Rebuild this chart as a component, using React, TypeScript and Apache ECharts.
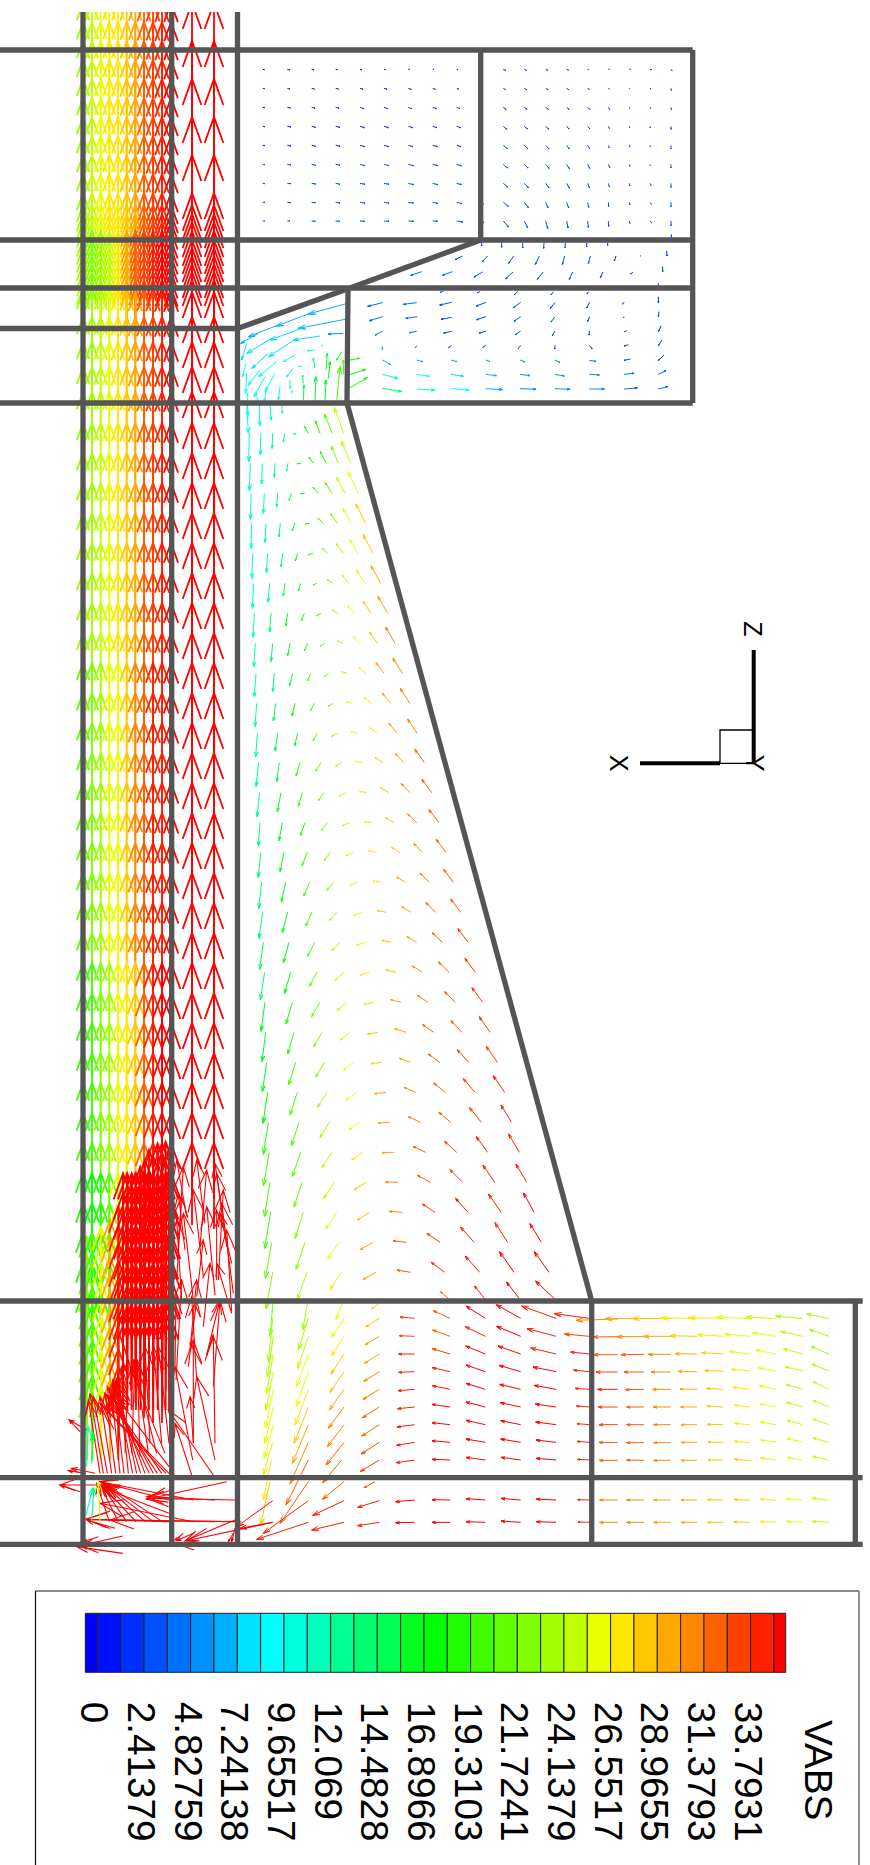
import React, { useEffect, useRef } from "react";
import * as echarts from "echarts";

type Row = number[];

// Colour levels of the VABS legend (one per contour band)
const LEVEL_STEP = 1.2069;
const LEVEL_COLORS = ["#0000ff","#0010ff","#0030ff","#0050ff","#0070ff","#0090ff","#00b0ff","#00e0ff","#00ffff","#00ffdd","#00ffb8","#00ff90","#00ff70","#00ff50","#00ff20","#00ff00","#20ff00","#40ff00","#60ff00","#80ff00","#a0ff00","#c0ff00","#e8ff00","#ffe800","#ffc800","#ffa800","#ff8800","#ff6000","#ff4000","#ff2000","#ff0000"];
const LEGEND_TICKS = ["0","2.41379","4.82759","7.24138","9.65517","12.069","14.4828","16.8966","19.3103","21.7241","24.1379","26.5517","28.9655","31.3793","33.7931"];
const LEGEND_TITLE = "VABS";

// Wall segments of the geometry: x0,y0,x1,y1
const WALLS: Row[] = [
  [83,12,83,1544],[171.7,12,171.7,1544],[237.5,12,237.5,1544],
  [0,50,692.7,50],[0,240,692.7,240],[0,288,692.7,288],[0,328.5,237.5,328.5],[0,403,692.7,403],
  [692.7,50,692.7,403],[480.7,50,480.7,240],[237.5,328.5,350,288],[350,288,480.7,240],[348,288,347,403],
  [347,403,591.7,1301],[0,1301,862.7,1301],[0,1477.7,862.7,1477.7],[0,1544.3,862.7,1544.3],
  [855.3,1301,855.3,1544.3],[591.7,1301,591.7,1544.3],
];

// Vector table cells: tail x, tail y, tip x, tip y, VABS
const TRAPEZOID_UPPER: Row[] = [
  [88,130,86,215,10.5],[122,130,121,195,11],[158,130,156,175,13],[194,130,190,155,14.5],[230,130,221,132,16],[265,130,254,110,18],[300,130,286,92,19],[336,130,314,72,21.5],[371,130,343,52,25],
  [91,220,88,302,11],[127,220,125,282,11.5],[165,220,163,262,13],[204,220,199,243,15],[243,220,232,221,16.5],[280,220,267,201,18],[318,220,301,184,19.5],[355,220,334,168,23],[392,220,365,153,25],
  [93,310,91,388,10.5],[133,310,130,370,11.5],[173,310,170,350,14],[214,310,207,331,16],[254,310,242,311,17.5],[295,310,279,292,19],[335,310,316,277,21],[375,310,350,262,25],[415,310,385,245,27],
  [95,400,93,475,10.5],[138,400,135,457,12],[181,400,177,440,14.5],[224,400,217,421,17],[268,400,255,402,19],[310,400,294,385,21],[352,400,332,371,23],[394,400,369,356,26],[437,400,408,342,28.5],
  [98,490,95,565,11],[143,490,139,547,13],[188,490,183,530,15],[233,490,226,512,17.5],[279,490,265,494,20],[323,490,308,476,22],[369,490,349,461,25],[413,490,390,449,27],[459,490,430,434,29],
  [101,580,97,655,11],[149,580,144,636,13],[195,580,190,618,16],[242,580,235,603,18],[290,580,279,585,20],[338,580,322,569,23],[386,580,366,555,25.5],[435,580,410,541,28],[482,580,453,527,30],
  [103,670,99,742,12],[153,670,149,725,14],[203,670,197,708,16.5],[253,670,244,693,19],[303,670,290,677,21],[353,670,337,660,24],[403,670,383,648,26],[453,670,429,633,28.5],[503,670,474,619,30],
  [106,760,101,830,12],[158,760,153,814,14],[210,760,203,797,17],[263,760,253,782,19],[315,760,301,768,22],[367,760,351,752,24.5],[419,760,400,739,27],[472,760,449,726,29],[525,760,497,711,31],
  [108,850,103,921,12.5],[163,850,158,904,15],[218,850,209,887,17.5],[272,850,262,873,20],[327,850,313,858,23],[382,850,365,845,25.5],[438,850,417,831,28],[492,850,468,818,30],[547,850,519,804,31],
  [110,940,105,1010,12.5],[167,940,160,993,15.5],[225,940,216,977,18],[283,940,271,963,21],[340,940,324,949,23],[397,940,379,935,26],[454,940,433,922,28],[512,940,487,909,30],[569,940,541,895,31.5],
  [112,1030,107,1100,13],[173,1030,165,1083,16],[233,1030,224,1067,18],[292,1030,279,1053,20],[352,1030,335,1039,24],[412,1030,393,1025,26],[471,1030,450,1013,28],[531,1030,507,1000,30],[591,1030,563,987,31.5],
  [116,1118,108,1190,13.5],[178,1118,170,1175,16],[240,1118,228,1158,19],[303,1118,287,1143,22],[365,1118,347,1128,24],[426,1118,406,1114,27],[489,1118,466,1103,28.5],[551,1118,526,1090,30.5],[613,1118,585,1078,32],
  [119,1208,111,1280,13.5],[183,1208,172,1265,17],[247,1208,235,1248,19],[312,1208,295,1232,22],[377,1208,357,1218,25],[441,1208,419,1204,27.5],[506,1208,482,1193,29],[570,1208,544,1181,31],[635,1208,606,1168,32.5],
  [120,1298,115,1368,14],[187,1298,177,1352,17],[255,1298,241,1336,19.5],[321,1298,304,1322,23],[388,1298,367,1307,25],[455,1298,432,1295,28],[522,1298,497,1283,29.5],[590,1298,563,1272,31],[657,1298,627,1259,33],
];
const TRAPEZOID_LOWER: Row[] = [
  [123,67,114,142,14],[192,67,180,125,17],[262,67,246,107,20],[331,67,312,92,23],[400,67,379,76,25.5],[470,67,446,63,28],[539,67,515,52,29.5],[608,67,582,41,31],[678,67,649,28,33],
  [125,157,116,235,14.5],[197,157,184,216,17],[269,157,251,198,20],[341,157,320,181,23],[413,157,390,166,26],[484,157,460,153,28],[556,157,530,141,30],[628,157,600,129,31.5],[700,157,671,118,33],
  [128,247,117,325,15],[203,247,187,307,17.5],[276,247,257,288,20],[351,247,328,271,24],[425,247,400,256,26],[499,247,472,242,28.5],[573,247,545,230,30],[647,247,618,218,32],[722,247,692,207,33],
  [130,337,119,418,15.5],[207,337,190,398,18],[284,337,263,379,21],[360,337,336,361,24],[437,337,410,345,27],[514,337,486,331,29],[590,337,561,320,30.5],[667,337,637,308,32],[744,337,714,296,33.5],
  [134,427,121,510,16],[212,427,193,490,18.5],[291,427,268,469,21.5],[371,427,345,451,25],[449,427,420,435,27.5],[528,427,499,420,29.5],[607,427,577,408,31],[687,427,656,396,32.5],[766,427,735,385,34],
  [135,517,123,604,16.5],[217,517,198,581,19],[299,517,275,560,22],[380,517,352,541,25],[461,517,432,523,28],[543,517,512,509,30],[624,517,592,496,31.5],[706,517,674,485,33],[788,517,756,473,34],
  [137,607,126,695,17],[222,607,203,672,19.5],[306,607,281,650,23],[389,607,361,630,25.5],[473,607,443,612,28.5],[558,607,524,596,30],[641,607,608,584,32],[726,607,693,572,33],[810,607,778,560,34],
  [140,697,127,785,17],[227,697,206,764,20],[314,697,287,741,23],[400,697,370,720,26],[485,697,453,701,29],[572,697,538,685,30.5],[659,697,625,672,32],[746,697,712,659,33.5],[832,697,799,649,34],
  [143,787,129,880,18],[232,787,210,855,20.5],[321,787,293,831,24],[409,787,378,810,27],[498,787,464,791,30],[587,787,552,772,31],[676,787,641,759,32.5],[765,787,730,746,34],[854,787,820,737,34.5],
  [145,877,130,973,19],[237,877,214,947,21],[328,877,300,922,24],[419,877,387,899,27],[510,877,475,879,30],[602,877,565,860,31.5],[692,877,657,847,33],[784,877,749,833,34],[875,877,843,825,35],
  [148,967,130,1067,20],[242,967,217,1040,21.5],[335,967,306,1013,25],[429,967,395,989,28],[522,967,486,968,30.5],[617,967,579,949,32],[710,967,674,934,33.5],[803,967,769,920,35],[898,967,866,912,35],
  [150,1057,133,1160,20.5],[246,1057,222,1131,22],[343,1057,311,1105,25.5],[438,1057,403,1079,28.5],[534,1057,497,1056,31],[632,1057,592,1036,33],[728,1057,690,1019,34],[824,1057,789,1005,35],[920,1057,888,1002,35.5],
  [152,1147,134,1255,21],[250,1147,225,1225,23],[350,1147,318,1196,26.5],[448,1147,412,1170,29],[547,1147,508,1144,31.5],[645,1147,607,1122,33.5],[744,1147,707,1105,35],[843,1147,806,1092,35.5],[942,1147,911,1089,36],
  [155,1237,136,1345,22],[255,1237,228,1318,23.5],[357,1237,323,1287,27],[459,1237,420,1259,30],[559,1237,519,1232,32],[660,1237,621,1210,34],[762,1237,722,1191,35],[863,1237,825,1178,35.5],[964,1237,930,1181,36],
  [158,1327,138,1437,22.5],[261,1327,231,1410,24],[364,1327,330,1378,27.5],[468,1327,429,1348,30.5],[572,1327,531,1320,33],[674,1327,634,1297,35],[779,1327,736,1278,35.5],[882,1327,839,1265,36],[987,1327,943,1265,36],
  [685,1405,662,1385,33],[793,1405,764,1368,35],[897,1405,860,1356,36],[1002,1405,947,1353,36],
];
const LOWER_LEFT_FIELD: Row[] = [
  [670,355,660,470,23],[668,415,655,545,24],[670,469,652,590,24.5],[670,522,650,640,25],[670,575,648,690,25.5],[670,628,646,745,26],[670,681,644,790,26.5],[670,734,642,835,27],[668,787,640,885,27.5],[664,840,640,960,28],[660,905,632,1035,29],[668,962,560,1040,36],[668,1027,570,1045,36],
  [775,355,758,450,24.5],[775,415,745,510,24],[775,469,743,565,25],[775,522,740,620,26],[775,575,738,680,27],[775,628,735,735,28],[775,681,732,790,29],[775,734,727,850,30],[775,787,720,912,31],[775,840,708,975,32],[775,905,690,1030,33],[775,962,640,1060,35.5],[775,1027,620,1078,35.5],
  [882,355,858,418,27],[882,415,845,472,27],[882,469,845,527,28],[882,522,843,583,28.5],[882,575,840,637,29],[882,628,838,690,30],[882,681,835,745,31],[882,734,832,800,31.5],[882,787,828,855,32],[875,840,818,908,32.5],[882,905,817,958,33],[882,962,788,1006,35],[882,1027,785,1050,35.5],
  [985,372,965,386,29],[988,415,947,440,29],[988,469,945,494,30],[988,522,943,550,30.5],[988,575,941,604,31],[988,628,939,658,31.5],[988,681,937,713,32],[988,734,935,768,33],[988,787,933,822,33.5],[988,840,931,874,34],[975,905,942,923,34],[988,962,923,982,35],[988,1027,923,1037,35.5],
  [1094,415,1050,411,34],[1094,469,1048,467,34],[1094,522,1046,522,34.5],[1094,575,1046,577,35],[1094,628,1044,632,35],[1094,681,1043,686,35.5],[1094,734,1041,741,35.5],[1094,787,1040,796,35.5],[1094,840,1039,848,35.5],[1094,960,1037,965,36],[1094,1027,1037,1028,36],
];
const LOWER_RIGHT_FIELD: Row[] = [
  [60,145,10,122,33],[60,199,8,180,33],[60,252,7,236,34],[60,305,7,293,35],[60,358,7,347,35.5],[60,411,6,403,36],[60,464,6,458,36],[60,517,6,512,36],[60,570,6,568,36],[60,690,6,689,36],[60,757,6,757,36],
  [166,145,108,108,36],[166,199,106,170,35],[166,252,107,228,36],[166,305,108,285,36],[166,358,108,340,36],[166,411,108,396,36],[166,464,108,451,36],[166,517,108,507,36],[166,570,108,562,36],[166,690,108,686,36],[166,757,108,755,36],
  [272,145,199,104,36],[272,199,200,169,36],[272,252,204,228,36],[272,305,207,286,36],[272,358,209,343,36],[272,411,211,398,36],[272,464,212,452,36],[272,517,212,507,36],[272,570,213,562,36],[272,690,213,685,36],[272,757,213,753,36],
  [378,145,275,108,35],[378,199,291,176,35],[378,252,302,234,35.5],[378,305,309,291,36],[378,358,313,346,36],[378,411,316,402,36],[378,464,317,456,36],[378,517,318,510,36],[378,570,318,565,36],[378,690,319,687,36],[378,757,319,755,36],
  [478,145,373,131,35],[478,199,404,192,34],[478,252,422,246,35],[478,305,431,300,35],[478,358,436,355,35],[478,411,440,408,35],[478,464,441,461,35],[478,517,442,514,35],[478,570,443,568,35],[478,690,443,689,35],[478,757,444,756,35],
  [563,147,438,151,31],[642,146,525,146,30],[722,146,607,145,28.5],[801,145,692,144,28],[880,145,775,143,28],[959,146,860,141,27],[1038,146,948,140,25.5],[1118,146,1037,138,24.5],[1197,146,1130,132,24.5],
  [563,200,490,201,32],[642,200,560,200,31],[722,199,640,199,30],[801,199,720,197,29.5],[880,199,803,194,28],[959,199,885,192,27],[1038,199,968,188,26],[1118,199,1052,184,25.5],[1197,199,1138,178,24.5],
  [563,254,490,254,33],[642,253,573,254,32],[722,253,654,253,31.5],[801,252,735,251,30],[880,252,815,248,29],[959,252,897,244,27],[1038,252,977,240,26],[1118,252,1060,236,25.5],[1197,252,1143,229,24.5],
  [563,306,498,306,34],[642,306,582,306,32],[722,306,663,306,31],[801,305,745,304,30.5],[880,304,824,301,29],[959,303,904,298,27.5],[1038,303,985,293,26.5],[1118,303,1065,290,25.5],[1197,303,1146,282,24.5],
  [563,358,503,358,34.5],[642,358,587,359,33],[722,358,668,358,31.5],[801,358,750,357,30],[880,358,829,355,28.5],[959,358,909,351,27.5],[1038,358,988,347,26.5],[1118,358,1068,343,25.5],[1197,358,1149,335,25],
  [563,411,505,411,34],[642,411,590,411,33],[722,411,670,411,31.5],[801,411,752,411,30],[880,411,831,408,28.5],[959,411,913,405,27.5],[1038,411,991,401,26.5],[1118,411,1070,397,25.5],[1197,411,1149,391,25],
  [563,464,507,464,33.5],[642,464,590,464,32.5],[722,464,671,464,31.5],[801,464,753,464,30],[880,464,832,463,28.5],[959,464,913,460,27.5],[1038,464,992,456,26.5],[1118,464,1071,451,25.5],[1197,464,1149,447,25],
  [563,518,507,517,33],[642,518,590,518,32.5],[722,518,671,518,31],[801,517,753,517,30],[880,517,834,516,29],[959,518,913,514,28],[1038,516,992,510,27],[1118,516,1071,506,26],[1197,518,1149,503,25],
  [563,571,508,571,32.5],[642,571,590,570,32],[722,571,671,571,31],[801,571,753,571,30],[880,570,834,570,29],[959,572,913,567,28.5],[1038,570,992,564,27.5],[1118,571,1071,562,26],[1197,571,1148,559,25],
  [563,690,509,690,31.5],[642,690,590,690,31],[722,690,671,690,30.5],[801,690,753,690,30],[880,690,833,689,29],[959,691,912,688,28.5],[1038,691,991,687,27.5],[1118,691,1069,686,26.5],[1197,691,1147,684,25],
  [563,757,509,757,31.5],[642,757,590,757,31],[722,757,671,757,30.5],[801,757,753,757,30],[880,757,833,757,29],[959,757,912,756,28.5],[1038,757,991,755,27.5],[1118,757,1069,754,26.5],[1197,757,1147,754,25],
];
const UPPER_RIGHT_BANDS: Row[] = [
  [140,728,140,738,3],[200,728,200,742,3.5],[263,728,263,744,3.5],[327,728,326,745,3.5],[391,728,390,743,3.5],[455,728,455,741,3],[518,728,518,736,2.5],[709,703,709,712,3],
  [82,768,60,779,4],[158,768,142,785,3.5],[236,768,221,790,3.5],[313,768,301,793,3.5],[389,768,382,793,3.5],[466,768,460,790,3.5],[543,768,538,783,3],[618,767,616,768,2],[695,752,696,768,3],
  [52,815,22,826,4.5],[143,816,117,831,4],[234,816,212,836,3.5],[324,816,307,838,3.5],[413,816,403,838,3.5],[504,816,496,833,3],[594,816,587,822,2.5],[683,800,683,815,3],[670,850,670,856,3],
  [25,874,15,877,4],[135,875,126,878,4],[248,875,238,884,3.5],[355,875,348,885,3.5],[460,875,456,882,3],
  [50,907,14,915,4],[153,907,124,918,4],[257,907,235,923,3.5],[360,907,346,925,3.5],[464,907,455,924,3],[568,907,562,912,2.5],[670,890,670,908,3],
  [50,952,18,958,4],[153,950,125,959,4],[257,950,237,964,3.5],[360,950,348,966,3.5],[464,950,458,964,3],[568,952,565,952,1.5],[672,935,670,950,3],
  [50,994,26,999,4],[153,993,132,1000,4],[257,993,241,1004,3.5],[360,993,352,1007,3.5],[463,993,462,1005,3],[575,992,568,995,3],[678,977,671,994,3],
  [50,1036,41,1043,4],[153,1036,143,1042,4],[257,1036,250,1046,3.5],[360,1036,359,1047,3],[463,1036,471,1046,3],[580,1034,568,1038,3],[681,1020,670,1037,3],
  [48,1080,66,1085,7],[152,1080,165,1085,6],[255,1080,269,1086,5.5],[360,1080,375,1088,5],[463,1081,482,1084,5],[587,1077,567,1081,4],[687,1065,670,1081,3],
  [48,1123,85,1129,8.5],[152,1123,184,1127,7.5],[255,1123,285,1127,6.5],[360,1123,388,1128,6.5],[463,1123,493,1125,5.5],[567,1123,597,1120,5],[670,1123,693,1112,3.5],
  [48,1165,102,1171,9.5],[152,1166,203,1169,7.5],[255,1166,303,1168,6.5],[360,1166,405,1168,6],[463,1167,508,1167,5.5],[567,1167,607,1164,5],[670,1167,698,1160,4.5],
];
const CORNER_FIELD: Row[] = [
  [1265,815,1232,826,5],[1148,908,1103,919,5],[1250,908,1210,913,4.5],[1148,950,1108,962,5],[1252,950,1217,955,4.5],[1147,994,1125,1005,5],[1250,994,1228,998,4.5],[1147,1040,1147,1048,6],[1252,1037,1246,1042,5],
  [1147,1080,1172,1094,7.5],[1250,1080,1268,1085,7.5],[1147,1123,1193,1135,12],[1250,1123,1288,1129,10],[1147,1165,1205,1175,14],[1250,1167,1305,1171,11],
  [1050,1080,1078,1075,18],[1050,1124,1098,1108,18],[1050,1163,1102,1133,19],
  [1035,912,925,942,7],[925,942,830,978,7.2],[835,975,745,1010,7.5],[775,1000,722,1030,7.5],
  [1035,958,895,985,7.5],[905,985,810,1020,8],[815,1015,740,1060,8.5],
  [1030,1000,985,1002,6.5],[960,1008,880,1020,8],[880,1022,805,1070,8.5],[805,1060,755,1105,9],
  [945,1050,922,1052,10],[885,1065,850,1085,10],[830,1085,775,1130,9.5],[780,1110,745,1155,9.5],
  [905,1098,895,1100,11],[880,1105,860,1130,11],[825,1120,795,1175,10],[795,1130,762,1190,9.5],
  [870,1140,870,1165,12],[840,1160,835,1200,10.5],[800,1160,793,1205,10],
  [740,1030,725,1080,8.5],[738,1090,727,1130,9.5],[740,1120,737,1180,10],[742,1180,743,1250,9.5],[740,1210,745,1300,9.5],
  [770,1180,773,1210,10],[778,1210,779,1278,10],[810,1210,813,1260,11],[845,1210,847,1240,12],
  [945,1205,948,1130,17],[910,1200,912,1155,16],[910,1150,908,1125,15],[975,1205,978,1140,17],[985,1135,990,1085,18],[1010,1205,1020,1100,21],[1030,1125,1030,1080,20],[1025,1055,1010,1080,18],[970,1040,965,1035,11],[978,1110,982,1060,16],[945,1105,940,1075,14],[875,1180,877,1170,13],
];

// Small vectors of the top blocks: column x, row y, then dx,dy per cell
const ROWS_TOP = [208,265,322,379,436,493,550,607,663];
const BLOCK_L_COLS = [788,862,935,1007,1080,1152,1225,1298,1370,1440];
const BLOCK_L_V = [1.5,2,2.5,3,3,3.5,3.5,3.5,3.5];
const BLOCK_L: number[][][] = [
  [[5,1],[7,2],[7,2],[5,1],[5,2],[4,1],[4,0],[4,0],[4,1],[1,1]],
  [[6,1],[8,2],[8,2],[8,2],[9,3],[9,3],[9,3],[8,3],[7,3],[2,1]],
  [[7,1],[9,2],[10,3],[10,3],[11,4],[10,4],[10,4],[11,4],[10,4],[3,1]],
  [[7,1],[10,2],[11,3],[12,3],[13,4],[13,4],[13,4],[13,4],[12,4],[4,2]],
  [[7,1],[10,2],[12,3],[13,3],[14,4],[14,4],[14,4],[14,4],[13,4],[5,2]],
  [[7,1],[10,2],[12,3],[13,3],[14,4],[15,4],[15,4],[15,4],[14,4],[6,2]],
  [[7,1],[10,1],[12,2],[13,3],[15,3],[15,3],[15,4],[15,4],[14,4],[8,3]],
  [[7,0],[10,1],[12,1],[13,2],[15,2],[15,2],[15,2],[15,3],[16,4],[10,4]],
  [[6,0],[8,0],[11,1],[12,1],[14,1],[15,1],[15,1],[15,1],[18,3],[12,5]],
];
const BLOCK_R_COLS = [205,268,332,395,458,520,583,645,708];
const BLOCK_R_V = [1.5,2,2.5,3,3.5,3.5,3.5,4,4];
const BLOCK_R: number[][][] = [
  [[7,3],[6,3],[6,3],[5,2],[3,1],[3,-1],[3,0],[4,1],[3,4]],
  [[7,4],[7,4],[7,4],[6,4],[5,3],[3,2],[1,2],[3,2],[1,6]],
  [[8,6],[8,6],[8,6],[7,6],[6,6],[4,6],[1,3],[2,4],[1,7]],
  [[10,9],[9,8],[9,8],[7,8],[6,7],[3,6],[1,4],[1,5],[0,9]],
  [[12,10],[10,10],[10,11],[8,11],[6,10],[3,8],[2,5],[1,4],[0,10]],
  [[12,11],[11,11],[10,12],[8,13],[6,12],[4,9],[2,6],[1,4],[0,11]],
  [[13,11],[12,13],[10,14],[8,15],[5,13],[3,10],[2,8],[3,6],[0,12]],
  [[15,12],[12,16],[7,16],[6,17],[3,15],[1,12],[2,8],[4,6],[0,13]],
  [[15,18],[10,21],[6,22],[4,21],[2,19],[1,16],[2,7],[5,6],[0,14]],
];

// Channel: arrows point up. Column x, tip rows and per-band values and lengths
const CH_COLS = [83,92,100.7,109.3,118,126.7,135.3,144,153,162,171];
const CH_BANDS: { tips: number[]; v: number[]; len: number[] }[] = [
  { tips: [3,22,41,60,79,98,117,136,155,174,193,205,214,222],
    v: [24.5,25,27,27.5,28,29.5,30.5,32,33.5,35,36], len: [52,52,52,52,52,54,54,56,56,58,58] },
  { tips: [231,240,248,256,264,272,280,288],
    v: [24,23.5,24,25.5,28,30,32,34,35,36,36], len: [50,50,50,50,50,52,52,54,54,56,56] },
  { tips: [292,317,342,367,392,423,453,483,513,543,573,603,633],
    v: [24,24,25.5,26.5,28,29,30.5,32,34,35.5,36], len: [52,52,54,54,56,56,58,58,58,60,60] },
  { tips: [663,693,723,753,783,813,843,873,903,933],
    v: [22,23.5,24.5,26,27,29,31,32.5,34.5,35.5,36], len: [52,52,54,54,56,56,58,60,60,62,62] },
  { tips: [963,993,1023,1053,1083,1113,1143],
    v: [20.5,21,22.5,24.5,26,27.5,29.5,32,34.5,36,36], len: [54,54,54,56,58,60,64,70,76,84,84] },
  { tips: [1173,1203,1233,1263,1293],
    v: [19,18.5,19.5,22,27,30.5,34,36,36,36,36], len: [60,60,60,62,70,90,110,125,130,130,120] },
];
const CH_OUTER_COLS = [192,214];
const CH_OUTER_TIPS = [3,41,79,117,155,193,205,214,222,231,240,248,256,264,272,280,292,317,342,367,392,423,453,483,513,543,573,603,633,663,693,723,753,783,813,843,873,903,933,963,993,1023,1053,1083,1113,1143];
const CH_OUTER_LEN = [82,86];

// Foot of the channel: tails per row and column, lengths per column
const FOOT_ROWS = [360,415,469,522,575,628,681,734,787,840];
const FOOT_COLS = [110,127,153,180,205];
const FOOT_V = [23,21,26,30,35];
const FOOT_LEN = [190,200,220,240,280];
const FOOT_RED_COLS = [219,232,245,258,271,285,297,310,323,337,347,357];
const FOOT_RED_ROWS = [270,330,390,450,510,570,630,690];
const FOOT_RED_LEN = 290;
const FOOT_UPPER_COLS = [245,258,271,285,297,310,323,337,347,357];
const FOOT_UPPER_ROWS = [60,120,180,240];
const FOOT_UPPER_LEN = [40,70,100,120,150,130,170,140,175,150];
const FOOT_EXTRA: Row[] = [
  [357,880,160,680,36],[357,860,190,640,36],[335,880,175,650,36],[310,880,180,640,36],[285,880,190,620,36],[260,880,200,600,36],[235,880,205,590,36],[210,880,185,640,36],[185,880,150,650,36],[160,880,120,640,36],
  [348,880,150,670,36],[322,880,165,640,36],[298,880,172,620,36],[272,880,188,600,36],[248,880,195,600,36],[222,880,190,610,36],[197,880,165,640,36],[172,880,130,650,36],[150,880,115,660,36],
  [345,820,240,560,36],[320,820,250,540,36],[295,820,255,540,36],[270,830,262,540,36],[245,820,255,540,36],[225,820,235,540,36],[357,790,325,500,36],[335,790,310,500,36],[300,790,285,500,36],[205,800,215,560,36],
  [425,885,375,730,36],[490,885,355,690,36],[495,840,440,590,36],[428,840,375,560,36],
  [430,790,430,480,36],[495,790,490,470,36],[378,600,395,300,36],[455,553,420,490,36],[470,525,490,465,36],[545,395,530,150,36],[550,340,515,70,36],[545,250,510,100,36],[505,300,520,30,36],[430,360,400,100,36],[460,290,430,30,36],[495,345,470,80,36],[405,210,385,40,36],[440,350,460,180,36],[500,300,500,90,36],[420,510,440,300,36],[395,360,380,120,36],[530,200,500,-20,36],[410,110,380,-60,36],[465,130,440,-60,36],
  [440,600,425,350,36],[490,620,510,360,36],[375,560,378,350,36],[415,560,440,360,36],[470,525,510,360,36],[545,400,500,250,36],[380,300,395,50,36],[450,200,470,-30,36],[520,120,495,-50,36],[385,200,400,-40,36],[430,790,420,650,36],[460,440,480,250,36],
  [178,1025,140,910,36],[205,1025,150,915,36],[230,1025,155,915,36],[258,1025,155,915,36],[285,1025,160,912,36],[310,1025,160,910,36],[337,1025,165,910,36],[357,1000,150,920,36],[357,960,150,905,36],[430,960,150,905,36],[495,960,290,950,36],[555,960,290,955,36],[495,1025,108,1018,36],[357,1025,108,1018,36],[555,1025,180,1020,36],[430,1025,150,970,36],[530,905,290,958,36],[210,915,30,915,36],[90,935,30,915,36],[195,1045,110,1020,36],[555,1020,405,1083,36],[668,1027,410,1082,36],
  [110,750,58,720,36],[90,755,58,720,36],[135,880,65,865,36],[108,880,55,872,36],[218,1068,100,1095,36],[218,1120,80,1100,36],[145,1118,100,1100,36],[145,1070,100,1085,36],
  [432,1110,375,1090,36],[430,1060,380,1082,36],[400,1060,375,1080,36],[550,1060,535,1085,36],[555,1045,545,1085,36],
  [108,1005,128,925,9.5],[125,1025,132,925,14],[150,1022,145,905,25],[125,850,130,760,17],[110,860,115,740,12],
];

function fromCrop(ox: number, oy: number, rows: Row[]): Row[] {
  return rows.map(([a, b, c, d, v]) => [ox + a / 3, oy + b / 3, ox + c / 3, oy + d / 3, v]);
}
function fromBlock(cols: number[], rows: number[], cells: number[][][], vals: number[], ox: number): Row[] {
  const out: Row[] = [];
  cells.forEach((row, i) => row.forEach(([dx, dy], j) => {
    out.push([ox + cols[j] / 3, rows[i] / 3, ox + (cols[j] + dx) / 3, (rows[i] + dy) / 3, vals[i]]);
  }));
  return out;
}
function channelData(): Row[] {
  const out: Row[] = [];
  CH_BANDS.forEach((b) => b.tips.forEach((t) => CH_COLS.forEach((x, j) => {
    out.push([x, t + b.len[j], x, t, b.v[j]]);
  })));
  CH_OUTER_TIPS.forEach((t) => CH_OUTER_COLS.forEach((x, j) => {
    out.push([x, t + CH_OUTER_LEN[j], x, t, 36]);
  }));
  const foot = (cols: number[], rows: number[], len: (j: number) => number, val: (j: number) => number) => {
    rows.forEach((y) => cols.forEach((x, j) => {
      out.push([50 + x / 3, 1180 + y / 3, 50 + x / 3, 1180 + (y - len(j)) / 3, val(j)]);
    }));
  };
  foot(FOOT_COLS, FOOT_ROWS, (j) => FOOT_LEN[j], (j) => FOOT_V[j]);
  foot(FOOT_UPPER_COLS, FOOT_UPPER_ROWS, (j) => FOOT_UPPER_LEN[j], () => 36);
  foot(FOOT_RED_COLS, FOOT_RED_ROWS, () => FOOT_RED_LEN, () => 36);
  return out;
}

const fieldData: Row[] = [
  ...fromBlock(BLOCK_L_COLS, ROWS_TOP, BLOCK_L, BLOCK_L_V, 0),
  ...fromBlock(BLOCK_R_COLS, ROWS_TOP, BLOCK_R, BLOCK_R_V, 435),
  ...fromCrop(435, 0, UPPER_RIGHT_BANDS),
  ...fromCrop(0, 0, CORNER_FIELD),
  ...fromCrop(220, 390, TRAPEZOID_UPPER),
  ...fromCrop(220, 830, TRAPEZOID_LOWER),
  ...fromCrop(50, 1180, LOWER_LEFT_FIELD),
  ...fromCrop(430, 1270, LOWER_RIGHT_FIELD),
];

const colorOf = (v: number) => LEVEL_COLORS[Math.max(0, Math.min(30, Math.round(v / LEVEL_STEP)))];

function arrowRenderer(frac: number, maxHead: number, spread: number, lineWidth: number) {
  return (_: any, api: any) => {
    const p0 = api.coord([api.value(0), api.value(1)]);
    const p1 = api.coord([api.value(2), api.value(3)]);
    const dx = p0[0] - p1[0];
    const dy = p0[1] - p1[1];
    const len = Math.hypot(dx, dy) || 1;
    const head = Math.min(maxHead, len * frac);
    const ux = dx / len, uy = dy / len;
    const w = head * spread;
    const b1 = [p1[0] + ux * head - uy * w, p1[1] + uy * head + ux * w];
    const b2 = [p1[0] + ux * head + uy * w, p1[1] + uy * head - ux * w];
    return {
      type: "polyline", silent: true,
      shape: { points: [p0, p1, b1, p1, b2] },
      style: { stroke: colorOf(api.value(4)), fill: "none", lineWidth, lineJoin: "miter" },
    };
  };
}

const LEGEND_LEFT = 85.3, LEGEND_RIGHT = 785.7, LEGEND_TOP = 1613.3, LEGEND_BOTTOM = 1672.3;
const LEGEND_CELL = 23.333;
const legendCells: Row[] = LEVEL_COLORS.map((_, i) => [
  i === 0 ? LEGEND_LEFT : LEGEND_LEFT + 12 + (i - 1) * LEGEND_CELL,
  i === 30 ? LEGEND_RIGHT : LEGEND_LEFT + 12 + i * LEGEND_CELL,
  i,
]);

const FONT = '"Liberation Sans", Arial, sans-serif';

export default function App() {
  const ref = useRef<HTMLDivElement>(null);
  useEffect(() => {
    const chart = echarts.init(ref.current!, undefined, { renderer: "svg" });
    const vert = -Math.PI / 2;
    const rotatedText = (text: string, x: number, y: number, fontSize: number, align = "left") => ({
      type: "text", x, y, rotation: vert, silent: true, z: 100,
      style: { text, fontSize, fontFamily: FONT, fill: "#000", align, verticalAlign: "middle" },
    });
    chart.setOption({
      animation: false,
      backgroundColor: "#fff",
      grid: { left: 0, right: 0, top: 0, bottom: 0 },
      xAxis: { type: "value", min: 0, max: 870, show: false },
      yAxis: { type: "value", min: 0, max: 1865, inverse: true, show: false },
      tooltip: { show: false },
      series: [
        { type: "custom", name: "vectors", z: 2, clip: false, silent: true, progressive: 0,
          encode: { x: [0, 2], y: [1, 3] }, data: fieldData, renderItem: arrowRenderer(0.2, 7, 0.3, 1) },
        { type: "custom", name: "channel", z: 3, clip: false, silent: true, progressive: 0,
          encode: { x: [0, 2], y: [1, 3] }, data: channelData(), renderItem: arrowRenderer(0.33, 26, 0.36, 1.8) },
        { type: "custom", name: "channel foot", z: 3, clip: false, silent: true, progressive: 0,
          encode: { x: [0, 2], y: [1, 3] }, data: fromCrop(50, 1180, FOOT_EXTRA), renderItem: arrowRenderer(0.25, 24, 0.36, 1.1) },
        { type: "custom", name: "walls", z: 4, clip: false, silent: true, progressive: 0,
          encode: { x: [0, 2], y: [1, 3] }, data: WALLS,
          renderItem: (_: any, api: any) => {
            const a = api.coord([api.value(0), api.value(1)]);
            const b = api.coord([api.value(2), api.value(3)]);
            return { type: "line", silent: true, shape: { x1: a[0], y1: a[1], x2: b[0], y2: b[1] },
              style: { stroke: "#555555", lineWidth: 5.3, lineCap: "butt" } };
          } },
        { type: "custom", name: "legend", z: 4, clip: false, silent: true, progressive: 0,
          encode: { x: [0, 1] }, data: legendCells,
          renderItem: (_: any, api: any) => {
            const a = api.coord([api.value(0), LEGEND_TOP]);
            const b = api.coord([api.value(1), LEGEND_BOTTOM]);
            return { type: "rect", silent: true, shape: { x: a[0], y: a[1], width: b[0] - a[0], height: b[1] - a[1] },
              style: { fill: LEVEL_COLORS[api.value(2)], stroke: "#222", lineWidth: 1 } };
          } },
      ],
      graphic: [
        { type: "rect", silent: true, z: 100, shape: { x: 0, y: 0, width: 870, height: 12 }, style: { fill: "#fff" } },
        { type: "line", silent: true, z: 100, shape: { x1: 35.5, y1: 1591, x2: 859, y2: 1591 }, style: { stroke: "#666", lineWidth: 1.4 } },
        { type: "line", silent: true, z: 100, shape: { x1: 35.5, y1: 1591, x2: 35.5, y2: 1865 }, style: { stroke: "#111", lineWidth: 1.2 } },
        { type: "line", silent: true, z: 100, shape: { x1: 859, y1: 1591, x2: 859, y2: 1865 }, style: { stroke: "#666", lineWidth: 1.4 } },
        { type: "line", silent: true, z: 100, shape: { x1: 753.7, y1: 650, x2: 753.7, y2: 763.3 }, style: { stroke: "#000", lineWidth: 4 } },
        { type: "line", silent: true, z: 100, shape: { x1: 640, y1: 763.3, x2: 720, y2: 763.3 }, style: { stroke: "#000", lineWidth: 4 } },
        { type: "polyline", silent: true, z: 100, shape: { points: [[720, 763.3], [720, 730], [753.7, 730], [753.7, 763.3], [720, 763.3]] }, style: { stroke: "#000", lineWidth: 1.3, fill: "none" } },
        rotatedText("X", 619, 763, 25, "center"),
        rotatedText("Z", 753.3, 629, 25, "center"),
        rotatedText("Y", 755, 763, 25, "center"),
        ...LEGEND_TICKS.map((t, i) => rotatedText(t, 94.7 + i * 46.67, 1701.7, 38.7)),
        rotatedText(LEGEND_TITLE, 818.3, 1720, 38.7),
      ],
    });
    return () => chart.dispose();
  }, []);
  return <div ref={ref} style={{ position: "absolute", left: 0, top: 0, width: 870, height: 1865 }} />;
}
